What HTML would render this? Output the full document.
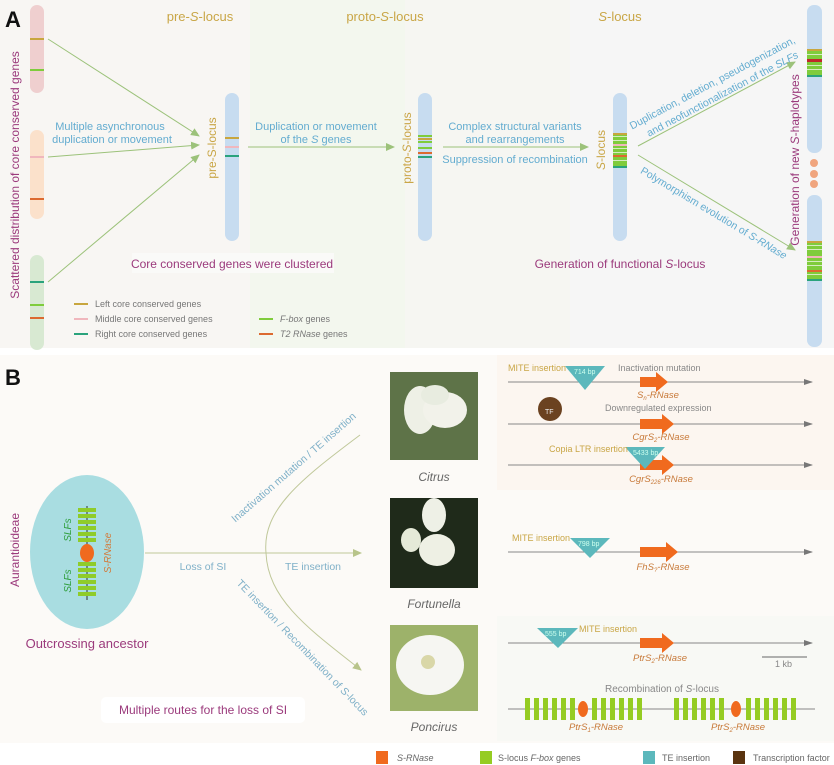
<!DOCTYPE html>
<html><head><meta charset="utf-8"><style>
html,body{margin:0;padding:0;background:#fff;}
svg{display:block;font-family:"Liberation Sans",sans-serif;}
</style></head><body>
<svg width="834" height="765" viewBox="0 0 834 765" xmlns="http://www.w3.org/2000/svg">
<defs>
<marker id="ah" markerWidth="10" markerHeight="10" refX="8" refY="5" orient="auto" markerUnits="userSpaceOnUse"><path d="M0,1 L9,5 L0,9 Z" fill="#9cc27a"/></marker>
<marker id="ag" markerWidth="10" markerHeight="10" refX="8" refY="5" orient="auto" markerUnits="userSpaceOnUse"><path d="M0,2 L9,5 L0,8 Z" fill="#777"/></marker>
<marker id="at" markerWidth="10" markerHeight="10" refX="8" refY="5" orient="auto" markerUnits="userSpaceOnUse"><path d="M0,1 L9,5 L0,9 Z" fill="#b8c48a"/></marker>
</defs>
<rect x="0" y="0" width="834" height="348" fill="#f6f6f3"/>
<rect x="0" y="0" width="250" height="348" fill="#f8f6f3"/>
<rect x="250" y="0" width="155" height="348" fill="#f3f7ee"/>
<rect x="405" y="0" width="165" height="348" fill="#f6f6f2"/>
<rect x="570" y="0" width="264" height="348" fill="#f6f6f6"/>
<rect x="0" y="348" width="834" height="417" fill="#ffffff"/>
<rect x="0" y="355" width="834" height="388" fill="#fcfaf7"/>
<rect x="497" y="355" width="337" height="135" fill="#fcf6f0"/>
<rect x="497" y="616" width="337" height="125" fill="#f8f9f5"/>
<text x="5" y="27" font-size="22" font-weight="bold" fill="#111">A</text>
<text x="5" y="385" font-size="22" font-weight="bold" fill="#111">B</text>
<g font-size="13" fill="#c9a646" text-anchor="middle">
<text x="200" y="21">pre-<tspan font-style="italic">S</tspan>-locus</text>
<text x="385" y="21">proto-<tspan font-style="italic">S</tspan>-locus</text>
<text x="620" y="21"><tspan font-style="italic">S</tspan>-locus</text>
</g>
<text transform="translate(19,175) rotate(-90)" font-size="12" fill="#9b3a7c" text-anchor="middle">Scattered distribution of core conserved genes</text>
<rect x="30" y="5" width="14" height="88" rx="7" fill="#efcfcf"/>
<rect x="30" y="130" width="14" height="89" rx="7" fill="#fbe1cb"/>
<rect x="30" y="255" width="14" height="95" rx="7" fill="#d8e9d2"/>
<rect x="30" y="38" width="14" height="2" fill="#c8a63e"/>
<rect x="30" y="69" width="14" height="2" fill="#7fcc3c"/>
<rect x="30" y="156" width="14" height="2" fill="#f0b7bd"/>
<rect x="30" y="198" width="14" height="2" fill="#dc6a30"/>
<rect x="30" y="281" width="14" height="2" fill="#2aa37c"/>
<rect x="30" y="304" width="14" height="2" fill="#7fcc3c"/>
<rect x="30" y="317" width="14" height="2" fill="#dc6a30"/>
<g stroke="#9cc27a" stroke-width="1" fill="none" marker-end="url(#ah)">
<line x1="48" y1="39" x2="199" y2="136"/>
<line x1="48" y1="157" x2="199" y2="145"/>
<line x1="48" y1="282" x2="199" y2="155"/>
<line x1="248" y1="147" x2="394" y2="147"/>
<line x1="443" y1="147" x2="588" y2="147"/>
<line x1="638" y1="146" x2="795" y2="62"/>
<line x1="638" y1="155" x2="795" y2="250"/>
</g>
<g font-size="11" fill="#63acd0" text-anchor="middle">
<text x="110" y="130">Multiple asynchronous</text>
<text x="112" y="143">duplication or movement</text>
<text x="316" y="130">Duplication or movement</text>
<text x="316" y="143">of the <tspan font-style="italic">S</tspan> genes</text>
<text x="515" y="130">Complex structural variants</text>
<text x="515" y="143">and rearrangements</text>
<text x="515" y="163">Suppression of recombination</text>
<text transform="translate(714,86) rotate(-28)" font-size="10.5">Duplication, deletion, pseudogenization,</text>
<text transform="translate(724,97) rotate(-28)" font-size="10.5">and neofunctionalization of the <tspan font-style="italic">SLFs</tspan></text>
<text transform="translate(712,216) rotate(31)" font-size="10.5">Polymorphism evolution of <tspan font-style="italic">S-RNase</tspan></text>
</g>
<rect x="225" y="93" width="14" height="148" rx="7" fill="#c7dcf0"/>
<rect x="225" y="137" width="14" height="2" fill="#c8a63e"/>
<rect x="225" y="146" width="14" height="2" fill="#f0b7bd"/>
<rect x="225" y="155" width="14" height="2" fill="#2aa37c"/>
<text transform="translate(216,148) rotate(-90)" font-size="12" fill="#c9a646" text-anchor="middle">pre-S-locus</text>
<rect x="418" y="93" width="14" height="148" rx="7" fill="#c7dcf0"/>
<g fill="#7fcc3c"><rect x="418" y="135" width="14" height="2"/><rect x="418" y="141" width="14" height="2"/><rect x="418" y="147" width="14" height="2"/></g>
<rect x="418" y="138" width="14" height="2" fill="#c8a63e"/>
<rect x="418" y="152" width="14" height="2" fill="#dc6a30"/>
<rect x="418" y="156" width="14" height="2" fill="#2aa37c"/>
<text transform="translate(411,148) rotate(-90)" font-size="12" fill="#c9a646" text-anchor="middle">proto-<tspan font-style="italic">S</tspan>-locus</text>
<rect x="613" y="93" width="14" height="148" rx="7" fill="#c7dcf0"/>
<rect x="613" y="133" width="14" height="35" fill="#7fcc3c"/>
<g fill="#d6ecc0"><rect x="613" y="136" width="14" height="1"/><rect x="613" y="140" width="14" height="1"/><rect x="613" y="148" width="14" height="1"/><rect x="613" y="152" width="14" height="1"/><rect x="613" y="160" width="14" height="1"/></g>
<rect x="613" y="133" width="14" height="2" fill="#c8a63e"/>
<rect x="613" y="144" width="14" height="2" fill="#f0b7bd"/>
<rect x="613" y="155" width="14" height="2" fill="#dc6a30"/>
<rect x="613" y="166" width="14" height="2" fill="#2aa37c"/>
<text transform="translate(605,150) rotate(-90)" font-size="12" fill="#c9a646" text-anchor="middle"><tspan font-style="italic">S</tspan>-locus</text>
<rect x="807" y="5" width="15" height="148" rx="7" fill="#c7dcf0"/>
<rect x="807" y="50" width="15" height="26" fill="#7fcc3c"/>
<g fill="#d6ecc0"><rect x="807" y="54" width="15" height="1"/><rect x="807" y="65" width="15" height="1"/><rect x="807" y="69" width="15" height="1"/></g>
<rect x="807" y="49" width="15" height="2" fill="#c8a63e"/>
<rect x="807" y="59" width="15" height="3" fill="#c0282a"/>
<rect x="807" y="75" width="15" height="2" fill="#2aa37c"/>
<rect x="807" y="195" width="15" height="152" rx="7" fill="#c7dcf0"/>
<rect x="807" y="241" width="15" height="40" fill="#7fcc3c"/>
<g fill="#d6ecc0"><rect x="807" y="245" width="15" height="1"/><rect x="807" y="249" width="15" height="1"/><rect x="807" y="261" width="15" height="1"/><rect x="807" y="265" width="15" height="1"/><rect x="807" y="274" width="15" height="1"/></g>
<rect x="807" y="241" width="15" height="2" fill="#c8a63e"/>
<rect x="807" y="256" width="15" height="2" fill="#f0b7bd"/>
<rect x="807" y="270" width="15" height="2" fill="#dc6a30"/>
<rect x="807" y="279" width="15" height="2" fill="#2aa37c"/>
<g fill="#f0a57e"><circle cx="814" cy="163" r="4"/><circle cx="814" cy="174" r="4"/><circle cx="814" cy="184" r="4"/></g>
<text transform="translate(799,160) rotate(-90)" font-size="12" fill="#9b3a7c" text-anchor="middle">Generation of new <tspan font-style="italic">S</tspan>-haplotypes</text>
<rect x="132" y="253" width="202" height="20" fill="#fafaf8"/>
<text x="232" y="268" font-size="12" fill="#9b3a7c" text-anchor="middle">Core conserved genes were clustered</text>
<text x="620" y="268" font-size="12" fill="#9b3a7c" text-anchor="middle">Generation of functional <tspan font-style="italic">S</tspan>-locus</text>
<g stroke-width="2">
<line x1="74" y1="304" x2="88" y2="304" stroke="#c8a63e"/>
<line x1="74" y1="319" x2="88" y2="319" stroke="#f0b7bd"/>
<line x1="74" y1="334" x2="88" y2="334" stroke="#2aa37c"/>
<line x1="259" y1="319" x2="273" y2="319" stroke="#7fcc3c"/>
<line x1="259" y1="334" x2="273" y2="334" stroke="#dc6a30"/>
</g>
<g font-size="9" fill="#777">
<text x="95" y="307">Left core conserved genes</text>
<text x="95" y="322">Middle core conserved genes</text>
<text x="95" y="337">Right core conserved genes</text>
<text x="280" y="322"><tspan font-style="italic">F-box</tspan> genes</text>
<text x="280" y="337"><tspan font-style="italic">T2 RNase</tspan> genes</text>
</g>
<text transform="translate(19,550) rotate(-90)" font-size="12" fill="#9b3a7c" text-anchor="middle">Aurantioideae</text>
<ellipse cx="87" cy="552" rx="57" ry="77" fill="#a9dde1"/>
<line x1="87" y1="506" x2="87" y2="600" stroke="#333" stroke-width="1"/>
<g fill="#8fcc2a">
<rect x="78" y="508" width="18" height="4"/><rect x="78" y="514" width="18" height="4"/><rect x="78" y="520" width="18" height="4"/><rect x="78" y="526" width="18" height="4"/><rect x="78" y="532" width="18" height="4"/><rect x="78" y="538" width="18" height="4"/>
<rect x="78" y="562" width="18" height="4"/><rect x="78" y="568" width="18" height="4"/><rect x="78" y="574" width="18" height="4"/><rect x="78" y="580" width="18" height="4"/><rect x="78" y="586" width="18" height="4"/><rect x="78" y="592" width="18" height="4"/>
</g>
<ellipse cx="87" cy="553" rx="7" ry="9" fill="#f06a1e"/>
<text transform="translate(71,530) rotate(-90)" font-size="10" font-style="italic" fill="#2e9e3a" text-anchor="middle">SLFs</text>
<text transform="translate(71,581) rotate(-90)" font-size="10" font-style="italic" fill="#2e9e3a" text-anchor="middle">SLFs</text>
<text transform="translate(111,553) rotate(-90)" font-size="10" font-style="italic" fill="#d27a3a" text-anchor="middle">S-RNase</text>
<text x="87" y="648" font-size="13" fill="#9b3a7c" text-anchor="middle">Outcrossing ancestor</text>
<line x1="145" y1="553" x2="361" y2="553" stroke="#c0c89a" stroke-width="1" marker-end="url(#at)"/>
<path d="M360,435 C300,480 262,510 266,553 C268,600 310,630 361,670" stroke="#c0c89a" stroke-width="1" fill="none" marker-end="url(#at)"/>
<g font-size="10.5" fill="#7fb0c8" text-anchor="middle">
<text x="203" y="570">Loss of SI</text>
<text x="313" y="570">TE insertion</text>
<text transform="translate(296,470) rotate(-41)">Inactivation mutation / TE insertion</text>
<text transform="translate(300,650) rotate(46)">TE insertion / Recombination of <tspan font-style="italic">S</tspan>-locus</text>
</g>
<rect x="101" y="697" width="204" height="26" rx="5" fill="#ffffff"/>
<text x="203" y="714" font-size="12" fill="#9b3a7c" text-anchor="middle">Multiple routes for the loss of SI</text>
<g>
<rect x="390" y="372" width="88" height="88" fill="#5e7348"/>
<ellipse cx="420" cy="410" rx="16" ry="24" fill="#eef0e6"/><ellipse cx="445" cy="410" rx="22" ry="18" fill="#f2f2ea"/><ellipse cx="435" cy="395" rx="14" ry="10" fill="#e8ece0"/>
<rect x="390" y="498" width="88" height="90" fill="#1f2a1a"/>
<ellipse cx="434" cy="515" rx="12" ry="17" fill="#eef0e6"/><ellipse cx="411" cy="540" rx="10" ry="12" fill="#e5ead8"/><ellipse cx="437" cy="550" rx="18" ry="16" fill="#eef0e4"/>
<rect x="390" y="625" width="88" height="86" fill="#9db26a"/>
<ellipse cx="430" cy="665" rx="34" ry="30" fill="#f6f6f2"/><circle cx="428" cy="662" r="7" fill="#d9d7a8"/>
</g>
<g font-size="12" font-style="italic" fill="#666" text-anchor="middle">
<text x="434" y="481">Citrus</text>
<text x="434" y="608">Fortunella</text>
<text x="434" y="731">Poncirus</text>
</g>
<g stroke="#888" stroke-width="1" marker-end="url(#ag)">
<line x1="508" y1="382" x2="812" y2="382"/>
<line x1="508" y1="424" x2="812" y2="424"/>
<line x1="508" y1="465" x2="812" y2="465"/>
<line x1="508" y1="552" x2="812" y2="552"/>
<line x1="508" y1="643" x2="812" y2="643"/>
</g>
<g fill="#f06a1e">
<path d="M640,377 h16 v-5 l12,10 l-12,10 v-5 h-16z"/>
<path d="M640,419 h22 v-5 l12,10 l-12,10 v-5 h-22z"/>
<path d="M640,460 h22 v-5 l12,10 l-12,10 v-5 h-22z"/>
<path d="M640,547 h26 v-5 l12,10 l-12,10 v-5 h-26z"/>
<path d="M640,638 h22 v-5 l12,10 l-12,10 v-5 h-22z"/>
</g>
<g fill="#5cb8bc">
<path d="M565,366 h40 l-20,24z"/>
<path d="M625,447 h40 l-20,22z"/>
<path d="M570,538 h40 l-20,20z"/>
<path d="M537,628 h41 l-20,20z"/>
</g>
<g font-size="7" fill="#cfe">
<text x="574" y="374">714 bp</text><text x="633" y="455">5433 bp</text><text x="578" y="546">798 bp</text><text x="545" y="636">555 bp</text>
</g>
<circle cx="550" cy="409" r="12" fill="#6b4220"/>
<text x="545" y="414" font-size="7" fill="#eee">TF</text>
<g font-size="9" fill="#c9a646">
<text x="508" y="371">MITE insertion</text>
<text x="549" y="452">Copia LTR insertion</text>
<text x="512" y="541">MITE insertion</text>
<text x="579" y="632">MITE insertion</text>
</g>
<g font-size="9" fill="#888">
<text x="618" y="371">Inactivation mutation</text>
<text x="605" y="411">Downregulated expression</text>
<text x="605" y="692" font-size="10">Recombination of <tspan font-style="italic">S</tspan>-locus</text>
<text x="775" y="667">1 kb</text>
</g>
<line x1="762" y1="657" x2="807" y2="657" stroke="#666"/>
<g font-size="9.5" font-style="italic" fill="#c87a3a" text-anchor="middle">
<text x="658" y="398">S<tspan font-size="6" dy="2">n</tspan><tspan dy="-2">-RNase</tspan></text>
<text x="661" y="440">CgrS<tspan font-size="6" dy="2">2</tspan><tspan dy="-2">-RNase</tspan></text>
<text x="661" y="482">CgrS<tspan font-size="6" dy="2">226</tspan><tspan dy="-2">-RNase</tspan></text>
<text x="663" y="570">FhS<tspan font-size="6" dy="2">?</tspan><tspan dy="-2">-RNase</tspan></text>
<text x="660" y="661">PtrS<tspan font-size="6" dy="2">2</tspan><tspan dy="-2">-RNase</tspan></text>
<text x="596" y="730">PtrS<tspan font-size="6" dy="2">1</tspan><tspan dy="-2">-RNase</tspan></text>
<text x="738" y="730">PtrS<tspan font-size="6" dy="2">2</tspan><tspan dy="-2">-RNase</tspan></text>
</g>
<line x1="508" y1="709" x2="815" y2="709" stroke="#888"/>
<g fill="#95cc22">
<rect x="525" y="698" width="5" height="22"/><rect x="534" y="698" width="5" height="22"/><rect x="543" y="698" width="5" height="22"/><rect x="552" y="698" width="5" height="22"/><rect x="561" y="698" width="5" height="22"/><rect x="570" y="698" width="5" height="22"/>
<rect x="592" y="698" width="5" height="22"/><rect x="601" y="698" width="5" height="22"/><rect x="610" y="698" width="5" height="22"/><rect x="619" y="698" width="5" height="22"/><rect x="628" y="698" width="5" height="22"/><rect x="637" y="698" width="5" height="22"/>
<rect x="674" y="698" width="5" height="22"/><rect x="683" y="698" width="5" height="22"/><rect x="692" y="698" width="5" height="22"/><rect x="701" y="698" width="5" height="22"/><rect x="710" y="698" width="5" height="22"/><rect x="719" y="698" width="5" height="22"/>
<rect x="746" y="698" width="5" height="22"/><rect x="755" y="698" width="5" height="22"/><rect x="764" y="698" width="5" height="22"/><rect x="773" y="698" width="5" height="22"/><rect x="782" y="698" width="5" height="22"/><rect x="791" y="698" width="5" height="22"/>
</g>
<ellipse cx="583" cy="709" rx="5" ry="8" fill="#f06a1e"/>
<ellipse cx="736" cy="709" rx="5" ry="8" fill="#f06a1e"/>
<rect x="376" y="751" width="12" height="13" fill="#f06a1e"/>
<rect x="480" y="751" width="12" height="13" fill="#95cc22"/>
<rect x="643" y="751" width="12" height="13" fill="#5cb8bc"/>
<rect x="733" y="751" width="12" height="13" fill="#5a3410"/>
<g font-size="9" fill="#666">
<text x="397" y="761" font-style="italic">S-RNase</text>
<text x="498" y="761"><tspan>S-locus </tspan><tspan font-style="italic">F-box</tspan> genes</text>
<text x="662" y="761">TE insertion</text>
<text x="753" y="761">Transcription factor</text>
</g>
</svg>
</body></html>
